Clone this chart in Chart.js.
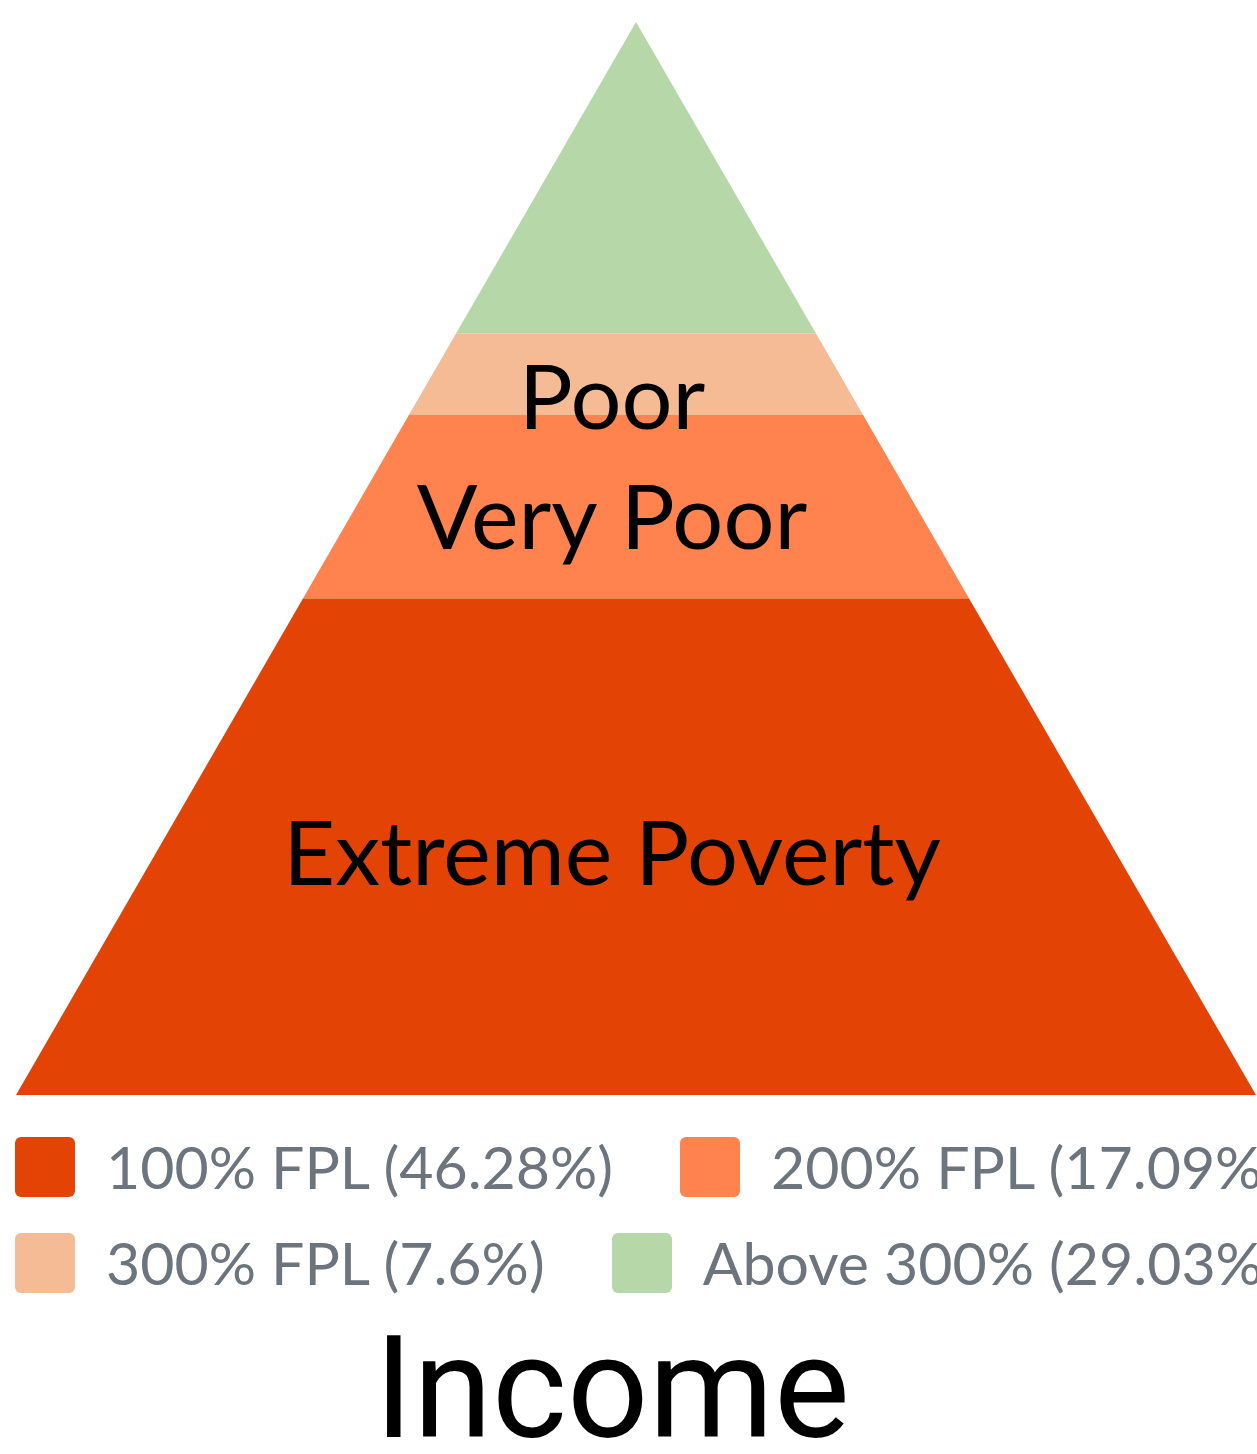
<!DOCTYPE html>
<html lang="en">
<head>
<meta charset="UTF-8">
<title>Income</title>
<script src="https://cdn.jsdelivr.net/npm/chart.js@4.4.1/dist/chart.umd.min.js"></script>
<style>
    html, body { margin: 0; padding: 0; overflow: hidden; background: #fff; }
    #wrap { position: relative; width: 1257px; height: 1454px; overflow: hidden; }
    #legend {
        position: absolute; left: 15px; top: 1137px; width: 1400px;
        display: flex; flex-wrap: wrap; row-gap: 36px;
        font-family: Lato, sans-serif; font-size: 59px; color: #6c757d;
    }
    .item { display: flex; align-items: center; height: 60px; line-height: 60px; margin-right: 67px; white-space: nowrap; }
    .box { width: 60px; height: 60px; border-radius: 6px; margin-right: 31px; }
</style>
</head>
<body>
<div id="wrap">
    <canvas id="pyramid"></canvas>
    <div id="legend"></div>
</div>
<script>
// tiers from the base of the pyramid up
var tiers = ['100% FPL', '200% FPL', '300% FPL', 'Above 300%'];
var shares = [46.28, 17.09, 7.6, 29.03];
var bandNames = ['Extreme Poverty', 'Very Poor', 'Poor', ''];
var colors = ['#e34405', '#fe834f', '#f4bb95', '#b6d7a8'];
var chartTitle = 'Income';

// baseline offset of each band name below the band middle (px)
var labelShift = [38, 42, 55, 0];
// texts sit a bit left of the pyramid's axis in the original
var textDx = -24;

function halfWidth(level) {
    return (100 - level) / 200;
}

var datasets = [];
var level = 0;
for (var i = 0; i < tiers.length; i++) {
    var lo = level, hi = level + shares[i];
    datasets.push({
        label: tiers[i] + ' (' + shares[i] + '%)',
        lo: lo,
        hi: hi,
        data: [
            {x: -halfWidth(lo), y: lo},
            {x: halfWidth(lo), y: lo},
            {x: halfWidth(hi), y: hi},
            {x: -halfWidth(hi), y: hi}
        ],
        showLine: true,
        fill: 'shape',
        backgroundColor: colors[i],
        borderColor: colors[i],
        borderWidth: 0,
        pointRadius: 0
    });
    level = hi;
}

var bandLabels = {
    id: 'bandLabels',
    afterDatasetsDraw: function(chart) {
        var ctx = chart.ctx, xs = chart.scales.x, ys = chart.scales.y;
        var cx = xs.getPixelForValue(0) + textDx;
        ctx.save();
        ctx.font = '90px Lato';
        ctx.fillStyle = '#000';
        ctx.textAlign = 'center';
        ctx.textBaseline = 'alphabetic';
        chart.data.datasets.forEach(function(ds, i) {
            if (!bandNames[i]) return;
            var mid = ys.getPixelForValue((ds.lo + ds.hi) / 2);
            ctx.fillText(bandNames[i], cx, mid + labelShift[i]);
        });
        // chart title under the legend
        ctx.font = '143px Roboto';
        ctx.fillText(chartTitle, cx, chart.height - 17);
        ctx.restore();
    }
};

var htmlLegend = {
    id: 'htmlLegend',
    afterUpdate: function(chart) {
        var box = document.getElementById('legend');
        box.innerHTML = '';
        chart.data.datasets.forEach(function(ds) {
            var item = document.createElement('div');
            item.className = 'item';
            var sw = document.createElement('span');
            sw.className = 'box';
            sw.style.background = ds.backgroundColor;
            var txt = document.createElement('span');
            txt.textContent = ds.label;
            item.appendChild(sw);
            item.appendChild(txt);
            box.appendChild(item);
        });
    }
};

var ctx = document.getElementById('pyramid').getContext('2d');
var chart = new Chart(ctx, {
    type: 'scatter',
    data: { datasets: datasets },
    options: {
        responsive: true,
        maintainAspectRatio: false,
        animation: false,
        layout: { padding: { left: 16, right: 1, top: 22, bottom: 359 } },
        scales: {
            x: { type: 'linear', min: -0.5, max: 0.5, display: false },
            y: { type: 'linear', min: 0, max: 100, display: false }
        },
        plugins: {
            legend: { display: false },
            tooltip: { enabled: false },
            title: { display: false }
        }
    },
    plugins: [bandLabels, htmlLegend]
});
</script>
</body>
</html>
